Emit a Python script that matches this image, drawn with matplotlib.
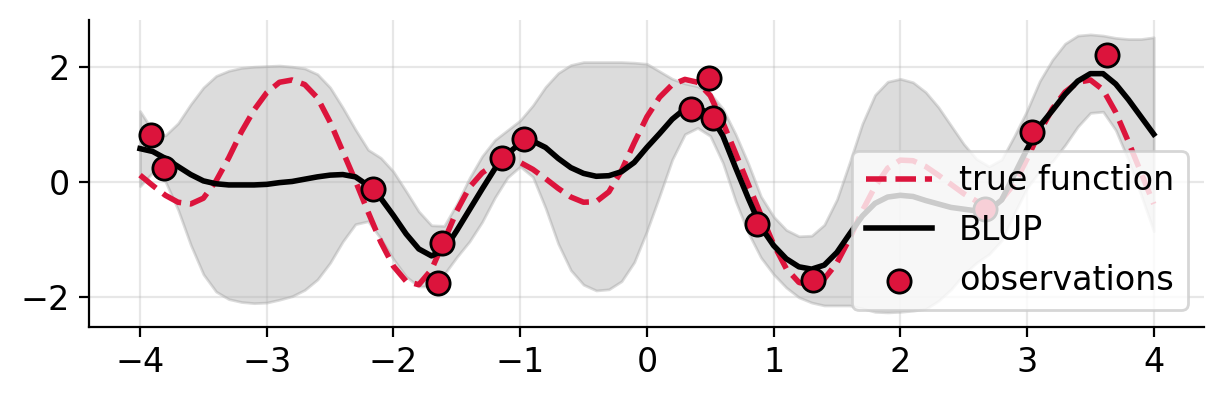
"""
GP regression figure: true function, BLUP with its band, and the observations.
"""

import matplotlib
import matplotlib.pyplot as plt
import numpy as np

matplotlib.use("Agg")
plt.rcParams["font.size"] = 12

# sample positions of the curves (step 0.1)
x_grid = np.linspace(-4, 4, 81)

true_y = [
    0.12, -0.06, -0.23, -0.35, -0.38, -0.28, 0.02, 0.42, 0.87, 1.25,
    1.55, 1.73, 1.77, 1.69, 1.46, 1.04, 0.53, 0.02, -0.52, -1.04,
    -1.46, -1.72, -1.78, -1.52, -1.02, -0.50, -0.09, 0.16, 0.31, 0.37,
    0.34, 0.22, 0.06, -0.11, -0.26, -0.35, -0.34, -0.17, 0.20, 0.68,
    1.13, 1.47, 1.69, 1.78, 1.73, 1.50, 1.03, 0.50, -0.04, -0.57,
    -1.08, -1.50, -1.74, -1.80, -1.68, -1.40, -0.98, -0.50, -0.08, 0.24,
    0.38, 0.37, 0.27, 0.12, -0.04, -0.20, -0.33, -0.39, -0.30, -0.03,
    0.40, 0.87, 1.27, 1.56, 1.73, 1.77, 1.60, 1.21, 0.70, 0.16,
    -0.38,
]

blup_y = [
    0.58, 0.53, 0.41, 0.27, 0.13, 0.02, -0.03, -0.05, -0.05, -0.05,
    -0.04, -0.01, 0.01, 0.05, 0.09, 0.12, 0.13, 0.09, -0.06, -0.28,
    -0.58, -0.90, -1.16, -1.28, -1.18, -0.84, -0.48, -0.12, 0.23, 0.49,
    0.67, 0.71, 0.60, 0.41, 0.25, 0.15, 0.10, 0.11, 0.18, 0.34,
    0.60, 0.84, 1.09, 1.27, 1.30, 1.17, 0.80, 0.25, -0.28, -0.78,
    -1.10, -1.33, -1.47, -1.51, -1.44, -1.22, -0.90, -0.59, -0.37, -0.26,
    -0.23, -0.25, -0.32, -0.38, -0.44, -0.47, -0.50, -0.49, -0.31, 0.13,
    0.57, 0.97, 1.24, 1.52, 1.75, 1.88, 1.88, 1.70, 1.43, 1.13,
    0.83,
]

# half width of the shaded band around the BLUP
band_hw = [
    0.65, 0.36, 0.40, 0.75, 1.22, 1.62, 1.87, 1.98, 2.03, 2.05,
    2.05, 2.03, 1.99, 1.92, 1.78, 1.52, 1.16, 0.82, 0.62, 0.70,
    0.76, 0.74, 0.65, 0.53, 0.42, 0.46, 0.55, 0.57, 0.50, 0.41,
    0.40, 0.62, 1.05, 1.48, 1.78, 1.93, 1.98, 1.97, 1.90, 1.73,
    1.45, 1.08, 0.70, 0.44, 0.36, 0.37, 0.47, 0.58, 0.60, 0.53,
    0.50, 0.50, 0.53, 0.58, 0.70, 0.92, 1.24, 1.60, 1.88, 2.00,
    2.02, 1.98, 1.88, 1.68, 1.42, 1.13, 0.90, 0.76, 0.70, 0.67,
    0.67, 0.78, 0.88, 0.88, 0.79, 0.68, 0.66, 0.80, 1.05, 1.35,
    1.68,
]

obs_x = [-3.91, -3.81, -2.16, -1.65, -1.62, -1.14, -0.97, 0.35, 0.49, 0.52,
         0.87, 1.31, 2.67, 3.04, 3.63]
obs_y = [0.81, 0.25, -0.12, -1.75, -1.06, 0.41, 0.75, 1.26, 1.80, 1.11,
         -0.73, -1.69, -0.47, 0.87, 2.21]

blup = np.array(blup_y)
hw = np.array(band_hw)

fig, ax = plt.subplots(figsize=(6.12, 2.0), dpi=200)
fig.subplots_adjust(left=0.073, right=0.984, bottom=0.183, top=0.95)

ax.fill_between(x_grid, blup - hw, blup + hw, color="gray", alpha=0.27)
ax.plot(x_grid, true_y, color="crimson", linestyle="--", linewidth=2,
        label="true function")
ax.plot(x_grid, blup_y, color="black", linewidth=2, label="BLUP")
ax.scatter(obs_x, obs_y, s=70, color="crimson", edgecolor="black",
           linewidth=1, zorder=3, label="observations")

ax.set_ylim(-2.51, 2.81)
ax.set_yticks([-2, 0, 2])
ax.set_xticks(range(-4, 5))
ax.grid(alpha=0.3)
ax.spines["top"].set_visible(False)
ax.spines["right"].set_visible(False)
ax.legend(loc="lower right")

fig.savefig("out.png", dpi=200)
plt.close(fig)
